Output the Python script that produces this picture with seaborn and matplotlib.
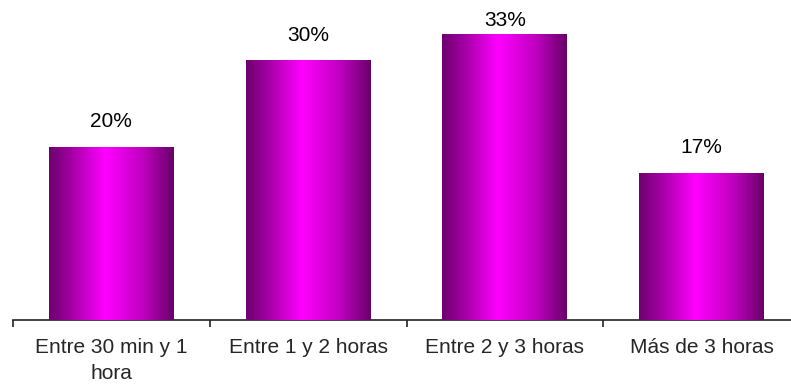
import numpy as np
import pandas as pd
import matplotlib
matplotlib.use("Agg")
import matplotlib.pyplot as plt
from matplotlib.colors import LinearSegmentedColormap
import seaborn as sns

categories = ["Entre 30 min y 1\nhora", "Entre 1 y 2 horas", "Entre 2 y 3 horas", "Más de 3 horas"]
values = [20, 30, 33, 17]
labels = ["20%", "30%", "33%", "17%"]

sns.set_style("white")
plt.rcParams["font.family"] = ["Liberation Sans", "DejaVu Sans"]

df = pd.DataFrame({"cat": categories, "val": values})

fig = plt.figure(figsize=(7.91, 3.92), dpi=100)
ax = fig.add_axes([13 / 791, 1 - 320 / 392, 787 / 791, 320 / 392])

sns.barplot(data=df, x="cat", y="val", color="#ff00ff", width=0.635, ax=ax,
            saturation=1, edgecolor="none")

# horizontal purple-magenta-purple shading across each bar
shade = LinearSegmentedColormap.from_list(
    "shade",
    [(0.0, "#6e006e"), (0.18, "#a400a4"), (0.45, "#ff00ff"),
     (0.75, "#c000c0"), (1.0, "#680068")])
grad = np.linspace(0, 1, 256).reshape(1, -1)
for patch in ax.patches:
    x0, y0 = patch.get_x(), patch.get_y()
    w, h = patch.get_width(), patch.get_height()
    im = ax.imshow(grad, cmap=shade, aspect="auto",
                   extent=(x0, x0 + w, y0, y0 + h), zorder=3,
                   interpolation="bilinear")
    im.set_clip_path(patch)
    patch.set_facecolor("none")

ax.set_xlim(-0.5, 3.5)
ax.set_ylim(0, 36.9)

# value labels above the bars, kept inside the plot area
top_cap = 33.9
for i, (v, lab) in enumerate(zip(values, labels)):
    ax.text(i, min(v + 2.2, top_cap), lab, ha="center", va="baseline",
            fontsize=15, color="black", zorder=4)

ax.set_xlabel("")
ax.set_ylabel("")
ax.set_yticks([])
for side in ["left", "right", "top"]:
    ax.spines[side].set_visible(False)
ax.spines["bottom"].set_color("#222222")
ax.spines["bottom"].set_linewidth(1.2)

ax.set_xticks(np.arange(-0.5, 4, 1), minor=True)
ax.tick_params(axis="x", which="minor", length=5, width=1.2, color="#222222",
               direction="out", bottom=True)
ax.tick_params(axis="x", which="major", length=0, pad=13, labelsize=15)
for t in ax.get_xticklabels():
    t.set_linespacing(1.45)

fig.savefig("out.png", dpi=100)
